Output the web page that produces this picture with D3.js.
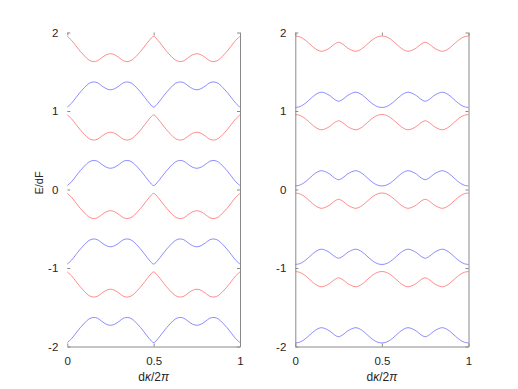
<!DOCTYPE html>
<head>
  <meta charset="utf-8">
  <script src="https://d3js.org/d3.v7.min.js"></script>
  <style>
    body { margin: 0; background: #fff; }
    svg { display: block; }
    text { font-family: "Liberation Sans", Arial, sans-serif; fill: #262626; }
  </style>
</head>
<body>
  <svg width="518" height="389"></svg>
  <script>
    // sample positions along d*kappa/2pi
    var kx = [0, 0.025, 0.05, 0.075, 0.1, 0.125, 0.15, 0.175, 0.2, 0.225, 0.25,
      0.275, 0.3, 0.325, 0.35, 0.375, 0.4, 0.425, 0.45, 0.475, 0.5,
      0.525, 0.55, 0.575, 0.6, 0.625, 0.65, 0.675, 0.7, 0.725, 0.75,
      0.775, 0.8, 0.825, 0.85, 0.875, 0.9, 0.925, 0.95, 0.975, 1];

    // band offset from its ladder level (E/dF)
    var leftShape = [0.05, 0.10, 0.17, 0.24, 0.30, 0.35, 0.37, 0.36, 0.32, 0.285, 0.27,
      0.285, 0.32, 0.36, 0.37, 0.35, 0.30, 0.24, 0.17, 0.10, 0.05,
      0.10, 0.17, 0.24, 0.30, 0.35, 0.37, 0.36, 0.32, 0.285, 0.27,
      0.285, 0.32, 0.36, 0.37, 0.35, 0.30, 0.24, 0.17, 0.10, 0.05];
    var rightShape = [0.045, 0.055, 0.085, 0.13, 0.18, 0.22, 0.24, 0.225, 0.195, 0.15, 0.125,
      0.15, 0.195, 0.225, 0.24, 0.22, 0.18, 0.13, 0.085, 0.055, 0.045,
      0.055, 0.085, 0.13, 0.18, 0.22, 0.24, 0.225, 0.195, 0.15, 0.125,
      0.15, 0.195, 0.225, 0.24, 0.22, 0.18, 0.13, 0.085, 0.055, 0.045];

    // ladder levels: red bands hang below, blue bands sit above
    var redLevels = [2, 1, 0, -1];
    var blueLevels = [1, 0, -1, -2];

    var yTicks = [-2, -1, 0, 1, 2];
    var yTickLabels = ['-2', '-1', '0', '1', '2'];
    var xTicks = [0, 0.5, 1];
    var xTickLabels = ['0', '0.5', '1'];

    var svg = d3.select('svg');
    var gray = '#8a8a8a';
    var y = d3.scaleLinear().domain([-2, 2]).range([346.5, 32.5]);

    var panels = [
      { x0: 67.3, x1: 240, shape: leftShape, leftLine: false, ylabel: true },
      { x0: 295.3, x1: 468.5, shape: rightShape, leftLine: true, ylabel: false }
    ];

    panels.forEach(function (p) {
      var x = d3.scaleLinear().domain([0, 1]).range([p.x0, p.x1]);
      var g = svg.append('g');

      var line = d3.line()
        .x(function (d, i) { return x(kx[i]); })
        .y(function (d) { return y(d); })
        .curve(d3.curveCatmullRom);

      redLevels.forEach(function (n) {
        g.append('path')
          .attr('d', line(p.shape.map(function (v) { return n - v; })))
          .attr('fill', 'none')
          .attr('stroke', '#ff4040')
          .attr('stroke-width', 0.6);
      });
      blueLevels.forEach(function (n) {
        g.append('path')
          .attr('d', line(p.shape.map(function (v) { return n + v; })))
          .attr('fill', 'none')
          .attr('stroke', '#4040ff')
          .attr('stroke-width', 0.6);
      });

      // axes, ticks pointing inward
      var yAxisL = d3.axisLeft(y).tickValues(yTicks).tickSizeInner(-3).tickSizeOuter(0)
        .tickPadding(9).tickFormat(function (d, i) { return yTickLabels[i]; });
      var ga = g.append('g').attr('transform', 'translate(' + p.x0 + ',0)').call(yAxisL);
      if (!p.leftLine) ga.select('.domain').remove();

      var yAxisR = d3.axisRight(y).tickValues(yTicks).tickSizeInner(-3).tickSizeOuter(0)
        .tickFormat('');
      g.append('g').attr('transform', 'translate(' + p.x1 + ',0)').call(yAxisR);

      var xAxisB = d3.axisBottom(x).tickValues(xTicks).tickSizeInner(-3).tickSizeOuter(0)
        .tickPadding(10).tickFormat(function (d, i) { return xTickLabels[i]; });
      g.append('g').attr('transform', 'translate(0,' + y(-2) + ')').call(xAxisB);

      var xAxisT = d3.axisTop(x).tickValues(xTicks).tickSizeInner(-3).tickSizeOuter(0)
        .tickFormat('');
      var gt = g.append('g').attr('transform', 'translate(0,' + y(2) + ')').call(xAxisT);
      gt.select('.domain').remove();

      g.selectAll('.domain').attr('stroke', gray);
      g.selectAll('.tick line').attr('stroke', gray);
      g.selectAll('.tick text').attr('font-size', 11.5).attr('fill', '#262626')
        .attr('font-family', '"Liberation Sans", Arial, sans-serif');

      var xl = g.append('text')
        .attr('x', (p.x0 + p.x1) / 2)
        .attr('y', 381)
        .attr('text-anchor', 'middle')
        .attr('font-size', 12);
      xl.append('tspan').text('d');
      xl.append('tspan').attr('font-style', 'italic').text('κ');
      xl.append('tspan').text('/2');
      xl.append('tspan').attr('font-style', 'italic').text('π');

      if (p.ylabel) {
        g.append('text')
          .attr('transform', 'translate(43,183) rotate(-90)')
          .attr('text-anchor', 'middle')
          .attr('font-size', 11)
          .text('E/dF');
      }
    });
  </script>
</body>
